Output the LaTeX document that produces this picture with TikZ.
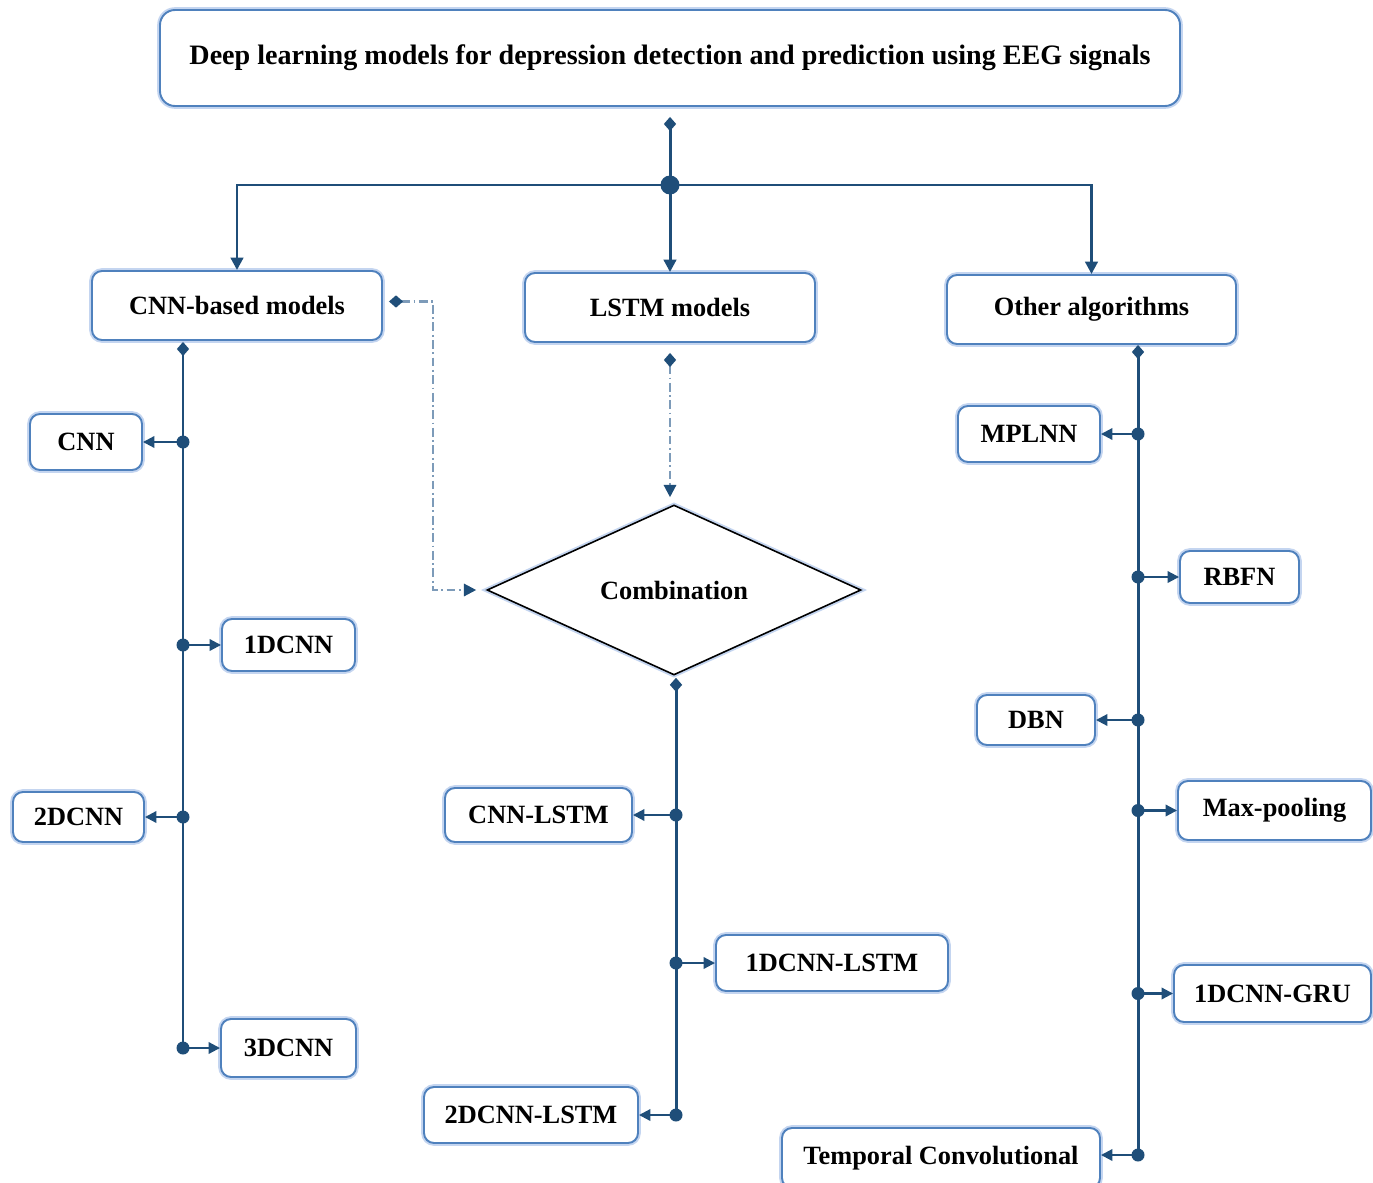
\documentclass[tikz,border=0pt]{standalone}
\usepackage{fontspec}
\setmainfont{Liberation Serif}
\usetikzlibrary{arrows.meta,shapes.geometric,calc}
\definecolor{lineblue}{RGB}{31,78,121}
\definecolor{boxblue}{RGB}{79,129,189}
\definecolor{glowblue}{RGB}{196,213,240}
\definecolor{dashgray}{RGB}{125,155,185}
\newcommand\bx[6]{\node[box, minimum width={(#4-#2)*0.02cm}, minimum height={(#5-#3)*0.02cm}] (#1) at ({(#2+#4)/2},{(#3+#5)/2}) {#6};}
\begin{document}
\begin{tikzpicture}[x=0.02cm,y=-0.02cm,
  box/.style={draw=boxblue, line width=1.1pt, rounded corners=0.2cm, fill=white, inner sep=0pt,
    font=\fontsize{15}{18}\selectfont\bfseries,
    preaction={draw=glowblue, line width=3.2pt}},
  conn/.style={draw=lineblue, line width=1.7pt},
  branch/.style={draw=lineblue, line width=1.2pt, -{Triangle[length=6.5pt,width=6.5pt]}},
  dd/.style={draw=dashgray, line width=1.3pt, dash pattern=on 5pt off 2pt on 1pt off 2pt},
  dot/.style={fill=lineblue}
]
\useasboundingbox (0,0) rectangle (1373,1183);
\fill[white] (0,0) rectangle (1373,1183);

% boxes
\node[box, rounded corners=0.3cm, minimum width={1020*0.02cm}, minimum height={96*0.02cm},
  font=\fontsize{16}{19}\selectfont\bfseries] (title) at (670,58)
  {Deep learning models for depression detection and prediction using EEG signals};
\bx{cnnb}{92}{271}{382}{340}{CNN-based models}
\bx{lstm}{525}{273}{815}{342}{LSTM models}
\bx{other}{947}{275}{1236}{344}{Other algorithms}
\bx{cnn}{30}{414}{142}{470}{CNN}
\bx{dcnn1}{222}{619}{355}{671}{1DCNN}
\bx{dcnn2}{13}{792}{144}{842}{2DCNN}
\bx{dcnn3}{221}{1019}{356}{1077}{3DCNN}
\bx{cnnlstm}{445}{788}{632}{842}{CNN-LSTM}
\bx{lstm1}{716}{935}{948}{991}{1DCNN-LSTM}
\bx{lstm2}{424}{1087}{638}{1143}{2DCNN-LSTM}
\bx{mplnn}{958}{406}{1100}{462}{MPLNN}
\bx{rbfn}{1180}{551}{1299}{603}{RBFN}
\bx{dbn}{977}{695}{1095}{745}{DBN}
\bx{maxp}{1178}{781}{1371}{840}{Max-pooling}
\bx{gru}{1174}{965}{1371}{1022}{1DCNN-GRU}
\bx{temp}{782}{1128}{1100}{1188}{Temporal Convolutional}

\node[diamond, draw=black, line width=0.9pt, fill=white, aspect=2.2, inner sep=0pt,
  minimum width={374*0.02cm}, minimum height={170*0.02cm},
  font=\fontsize{15}{18}\selectfont\bfseries,
  preaction={draw=glowblue, line width=3pt}] (comb) at (674,590) {Combination};

% hub
\coordinate (hub) at (670,185);
\draw[conn, {Diamond[length=8pt,width=7pt]}-, shorten <=0.2cm] (title.south) -- (hub);
\draw[conn, -{Triangle[length=7pt,width=7pt]}] (hub) -| (cnnb.north);
\draw[conn, -{Triangle[length=7pt,width=7pt]}] (hub) -- (lstm.north);
\draw[conn, -{Triangle[length=7pt,width=7pt]}] (hub) -| (other.north);
\fill[dot] (hub) circle (0.19cm);

% CNN trunk
\coordinate (c1) at (183,442);
\coordinate (c2) at (183,645);
\coordinate (c3) at (183,817);
\coordinate (c4) at (183,1048);
\draw[conn, {Diamond[length=8pt,width=7pt]}-, shorten <=0.02cm] (cnnb.south -| c1) -- (c4);
\draw[branch] (c1) -- (cnn.east);
\draw[branch] (c2) -- (dcnn1.west);
\draw[branch] (c3) -- (dcnn2.east);
\draw[branch] (c4) -- (dcnn3.west);
\foreach \c in {c1,c2,c3,c4} \fill[dot] (\c) circle (0.13cm);

% Combination trunk
\coordinate (m1) at (676,815);
\coordinate (m2) at (676,963);
\coordinate (m3) at (676,1115);
\draw[conn, {Diamond[length=8pt,width=7pt]}-, shorten <=0.04cm] (comb.south -| m1) -- (m3);
\draw[branch] (m1) -- (cnnlstm.east);
\draw[branch] (m2) -- (lstm1.west);
\draw[branch] (m3) -- (lstm2.east);
\foreach \c in {m1,m2,m3} \fill[dot] (\c) circle (0.13cm);

% Other trunk
\coordinate (o1) at (1138,434);
\coordinate (o2) at (1138,577);
\coordinate (o3) at (1138,720);
\coordinate (o4) at (1138,810.5);
\coordinate (o5) at (1138,993.5);
\coordinate (o6) at (1138,1155);
\draw[conn, {Diamond[length=8pt,width=7pt]}-, shorten <=0.0cm] (other.south -| o1) -- (o6);
\draw[branch] (o1) -- (mplnn.east);
\draw[branch] (o2) -- (rbfn.west);
\draw[branch] (o3) -- (dbn.east);
\draw[branch] (o4) -- (maxp.west);
\draw[branch] (o5) -- (gru.west);
\draw[branch] (o6) -- (o6 -| temp.east);
\foreach \c in {o1,o2,o3,o4,o5,o6} \fill[dot] (\c) circle (0.13cm);

% dash-dot connectors
\coordinate (dx) at (433,0);
\draw[dd, {Diamond[length=8pt,width=7pt,color=lineblue,fill=lineblue]}-{Triangle[length=7pt,width=7pt,color=lineblue,fill=lineblue]}, shorten <=0.12cm, shorten >=0.2cm] ([yshift=0.08cm]cnnb.east) -- ([yshift=0.08cm]cnnb.east -| dx) |- (comb.west);
\draw[dd, {Diamond[length=8pt,width=7pt,color=lineblue,fill=lineblue]}-{Triangle[length=7pt,width=7pt,color=lineblue,fill=lineblue]}, shorten <=0.2cm, shorten >=0.14cm] (lstm.south) -- (lstm.south |- comb.north);
\end{tikzpicture}
\end{document}
